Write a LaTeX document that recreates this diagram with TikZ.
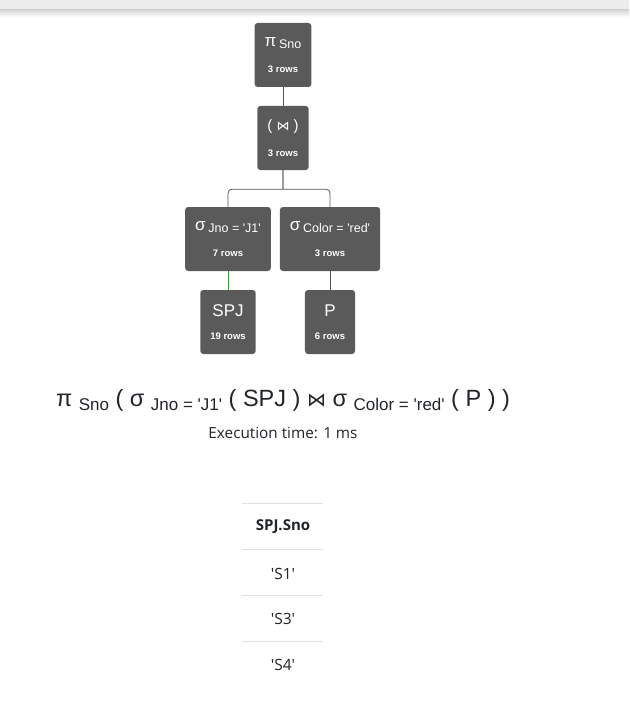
\documentclass[tikz,border=0pt]{standalone}
\usepackage{fontspec}
\setmainfont{Liberation Sans}
\newfontfamily\uifont{Open Sans}
\newfontfamily\symfont{DejaVu Sans}
\usetikzlibrary{shapes}
\usetikzlibrary{arrows}
\usetikzlibrary{trees}
\definecolor{boxgray}{HTML}{5A5A5A}
\definecolor{linegray}{HTML}{555555}
\definecolor{pathgreen}{HTML}{3C9A3C}
\definecolor{rulegray}{HTML}{DEE2E6}
\definecolor{bargray}{HTML}{ECECEC}
\definecolor{textdark}{HTML}{212529}
\newcommand{\q}{\textquotesingle}
\newcommand{\optitle}[2]{{\fontsize{17}{17}\selectfont #1} \raisebox{-2pt}{\fontsize{12.5}{13}\selectfont #2}}
\newcommand{\rowcount}[1]{{\fontsize{9.5}{10}\selectfont\bfseries #1 rows}}
\newcommand{\exbig}{\fontsize{23.5}{25}\selectfont}
\newcommand{\exsub}[1]{\raisebox{-4pt}{\fontsize{17}{19}\selectfont #1}}
\tikzset{relop/.style={rectangle,rounded corners=3pt,fill=boxgray,text=white,minimum height=64pt,inner xsep=10pt,align=center}}

\begin{document}
\begin{tikzpicture}[x=1pt,y=-1pt,
			edge from parent/.style={draw=linegray,line width=0.8pt,rounded corners=4pt},
			level 1/.style={level distance=83pt},
			level 2/.style={grow via three points={one child at (-4pt,-101pt) and two children at (-55pt,-101pt) and (47pt,-101pt)},
				edge from parent path={(\tikzparentnode.south) -- ++(0,-19pt) ++(0,0) -| (\tikzchildnode.north)}},
			level 3/.style={grow=down,level distance=83pt,
				edge from parent path={(\tikzparentnode.south) -- (\tikzchildnode.north)}}
			]
			\useasboundingbox (0,0) rectangle (629,706);
			\fill[bargray] (0,0) rectangle (629,10);
			\shade[top color=black!16,bottom color=white] (0,10) rectangle (629,17);
			\node[relop](proj) at (283,55) {\optitle{π}{Sno}\\[14pt]\rowcount{3}}
			child{
				node[relop](join){\fontsize{15}{16}\selectfont ( {\symfont\fontsize{13}{14}\selectfont ⋈} )\\[14pt]\rowcount{3}}
				child{node[relop](seljno) {\optitle{σ}{Jno = \q J1\q}\\[14pt]\rowcount{7}}
					child{node[relop](spj) {\fontsize{17}{17}\selectfont SPJ\\[11pt]\rowcount{19}} edge from parent[draw=pathgreen]}}
				child{node[relop](selcolor) {\optitle{σ}{Color = \q red\q}\\[14pt]\rowcount{3}}
					child{node[relop](p) {\fontsize{17}{17}\selectfont P\\[11pt]\rowcount{6}}}}
			};
			\node[align=center,text=textdark](expr) at (283,400) {\exbig π \exsub{Sno} ( σ \exsub{Jno = \q J1\q} ( SPJ ) {\symfont\fontsize{19}{21}\selectfont ⋈} σ \exsub{Color = \q red\q} ( P ) )};
			\node[text=textdark](time) at (283,433) {\uifont\fontsize{15.3}{17}\selectfont Execution time: 1 ms};
			\foreach \y in {503,549,595,641}
				\draw[rulegray,line width=0.8pt] (242,\y) -- (323,\y);
			\node[text=textdark](head) at (283,527) {\uifont\bfseries\fontsize{15}{17}\selectfont SPJ.Sno};
			\node[text=textdark](s1) at (283,574) {\uifont\fontsize{15.5}{17}\selectfont \q S1\q};
			\node[text=textdark](s3) at (283,619) {\uifont\fontsize{15.5}{17}\selectfont \q S3\q};
			\node[text=textdark](s4) at (283,665) {\uifont\fontsize{15.5}{17}\selectfont \q S4\q};
\end{tikzpicture}
\end{document}
